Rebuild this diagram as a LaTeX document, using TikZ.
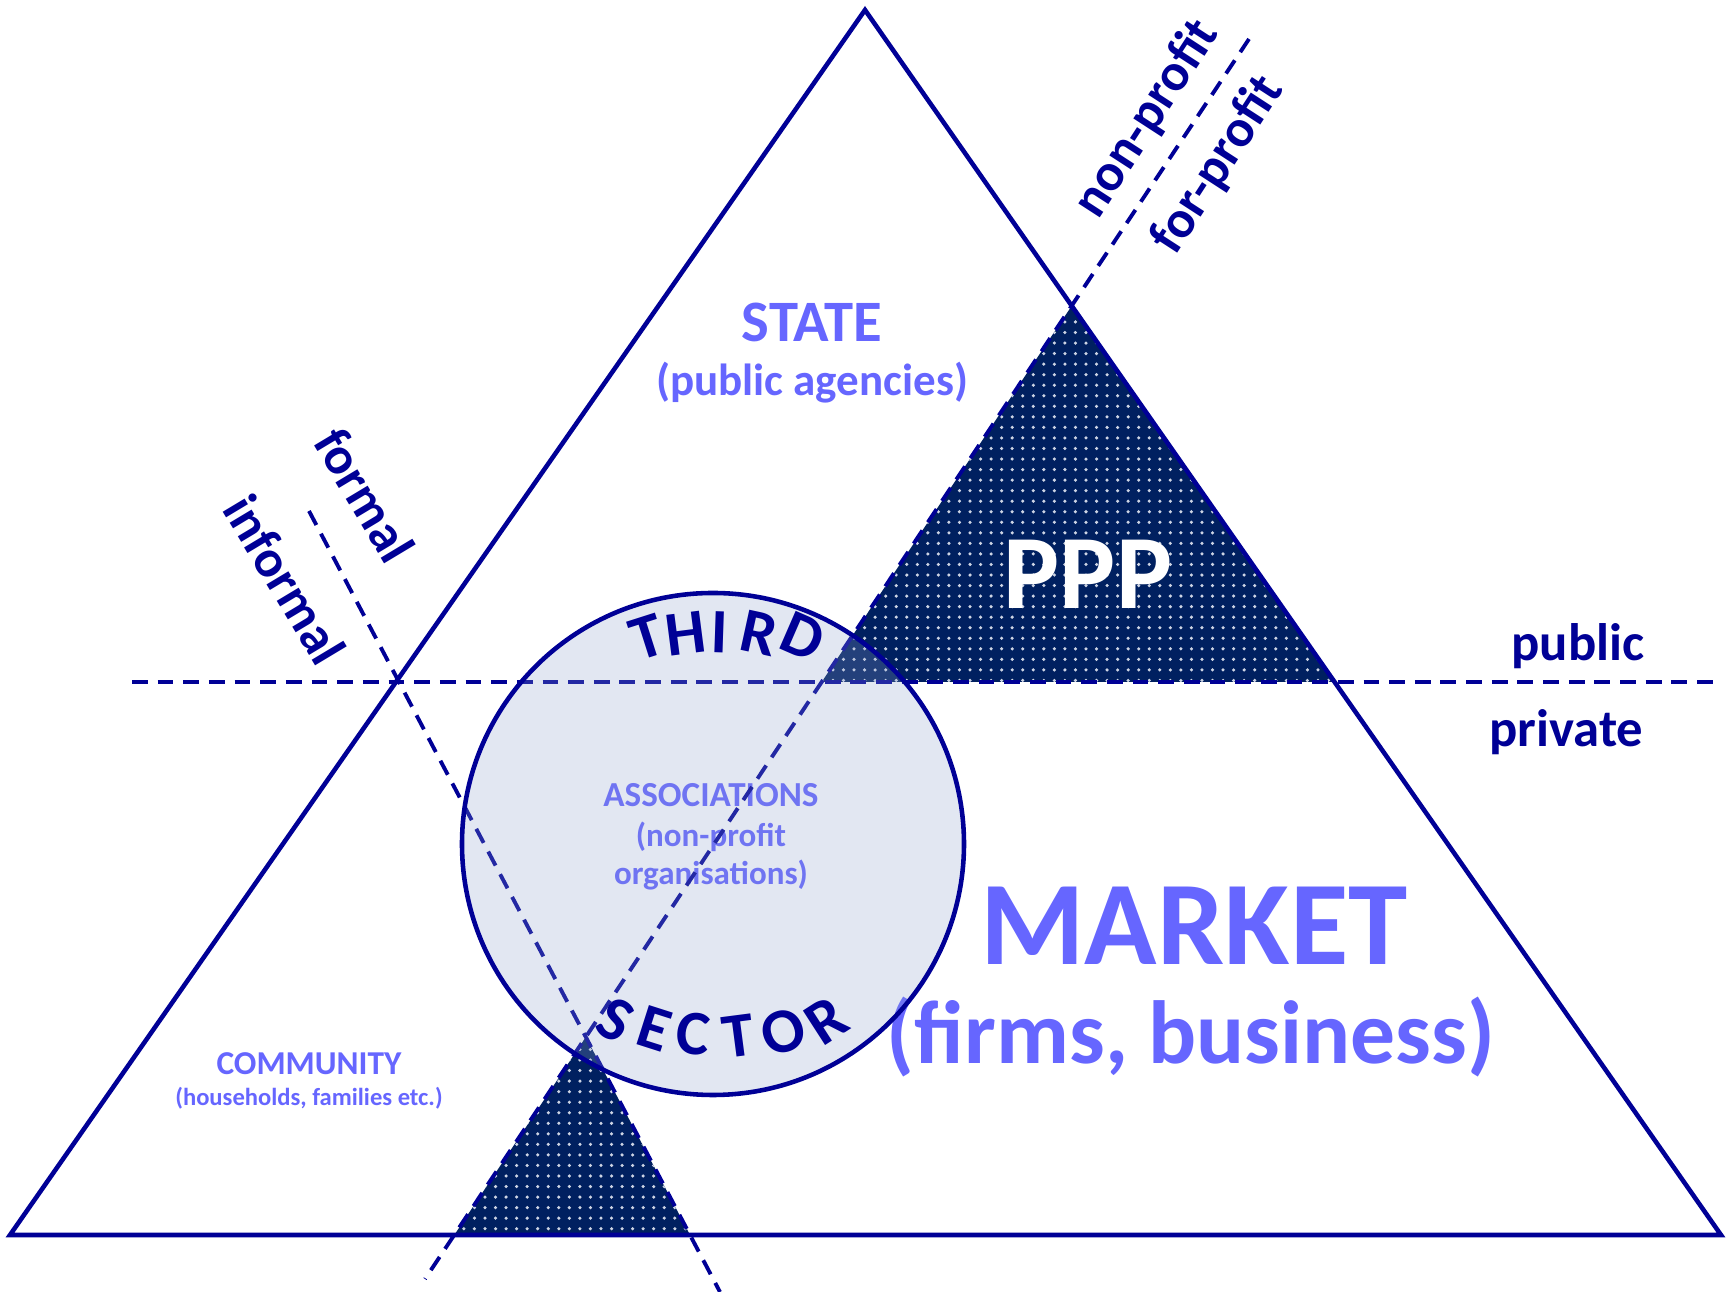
\documentclass[tikz,border=0pt]{standalone}
\usepackage{fontspec}
\setmainfont{Carlito}
\usetikzlibrary{patterns}
\definecolor{linecol}{RGB}{0,0,150}
\definecolor{pppfill}{RGB}{0,32,96}
\definecolor{dotcol}{RGB}{205,212,228}
\definecolor{labelcol}{RGB}{102,102,255}
\definecolor{circfill}{RGB}{140,160,205}
\tikzset{
  rim/.style={linecol,line width=1.3pt},
  divider/.style={linecol,line width=1.1pt,dash pattern=on 4.5pt off 2.8pt},
  pppshade/.style={preaction={fill=pppfill},pattern=dots,pattern color=dotcol},
  sectortext/.style={text=labelcol,inner sep=0pt,font=\bfseries\fontsize{#1}{#1}\selectfont},
  sidelabel/.style={text=linecol,inner sep=0pt,font=\bfseries\fontsize{15}{15}\selectfont},
  arcletter/.style={text=linecol,inner sep=0pt,font=\bfseries\fontsize{18}{18}\selectfont}
}
\begin{document}
\begin{tikzpicture}[x=0.1mm,y=0.1mm,line join=miter]
\useasboundingbox (0,0) rectangle (1729,1292);
\coordinate (top) at (865,1282);
\coordinate (bl) at (10,57);
\coordinate (br) at (1721,57);
\coordinate (hzA) at (132,610);
\coordinate (hzB) at (1721,610);
\coordinate (npA) at (1249,1253);
\coordinate (npB) at (425,13);
\coordinate (fiA) at (309,781);
\coordinate (fiB) at (720,0);
\coordinate (cc) at (713,448);
\coordinate (pppTop) at (intersection of npA--npB and top--br);
\coordinate (pppL) at (intersection of npA--npB and hzA--hzB);
\coordinate (pppR) at (intersection of top--br and hzA--hzB);
\coordinate (lowTop) at (intersection of npA--npB and fiA--fiB);
\coordinate (lowL) at (intersection of npA--npB and bl--br);
\coordinate (lowR) at (intersection of fiA--fiB and bl--br);
% shaded overlaps
\path[pppshade] (pppTop)--(pppL)--(pppR)--cycle;
\path[pppshade] (lowTop)--(lowL)--(lowR)--cycle;
% sector names
\node[sectortext=16.7,anchor=base] (state) at (812,950) {STATE};
\node[sectortext=12.8,anchor=base] (statesub) at (812,896) {(public agencies)};
\node[sectortext=10,anchor=base] (assoc) at (711,485) {ASSOCIATIONS};
\node[sectortext=9.4,anchor=base] (assocA) at (711,445) {(non-profit};
\node[sectortext=9.4,anchor=base] (assocB) at (711,407) {organisations)};
\node[sectortext=34,anchor=base] (market) at (1194,327) {MARKET};
\node[sectortext=25.5,anchor=base] (marketsub) at (1191,228) {(firms, business)};
\node[sectortext=9.5,anchor=base] (community) at (309,217) {COMMUNITY};
\node[sectortext=7,anchor=base] (communitysub) at (309,186) {(households, families etc.)};
% dividing lines
\draw[divider] (hzA)--(hzB);
\draw[divider] (npA)--(npB);
\draw[divider] (fiA)--(fiB);
\draw[rim] (top)--(bl)--(br)--cycle;
\draw[rim,fill=circfill,fill opacity=0.25] (cc) circle[radius=251];
\foreach \ch/\ang/\rad in {T/107.7/217,H/97.3/212,I/88.1/212,R/77.7/216,D/66.5/226}
  \node[arcletter,rotate=\ang-90] (third\ch) at ([shift={(\ang:\rad)}]cc) {\ch};
\foreach \ch/\ang/\rad in {S/240.9/201,E/252.3/194,C/264/191,T/277.4/194,O/290.5/200,R/302.8/210}
  \node[arcletter,rotate=\ang+90] (sector\ch) at ([shift={(\ang:\rad)}]cc) {\ch};
\node[text=white,inner sep=0pt,font=\bfseries\fontsize{30}{30}\selectfont,anchor=base] (pppname) at (1088,683) {PPP};
\node[sidelabel,anchor=base east] (public) at (1645,631) {public};
\node[sidelabel,anchor=base east] (private) at (1644,545) {private};
\node[sidelabel,rotate=-59] (formal) at (365,797) {formal};
\node[sidelabel,rotate=-59] (informal) at (285,712) {informal};
\node[sidelabel,rotate=57] (nonprofit) at (1147,1173) {non-profit};
\node[sidelabel,rotate=57] (forprofit) at (1218,1127) {for-profit};
\end{tikzpicture}
\end{document}
